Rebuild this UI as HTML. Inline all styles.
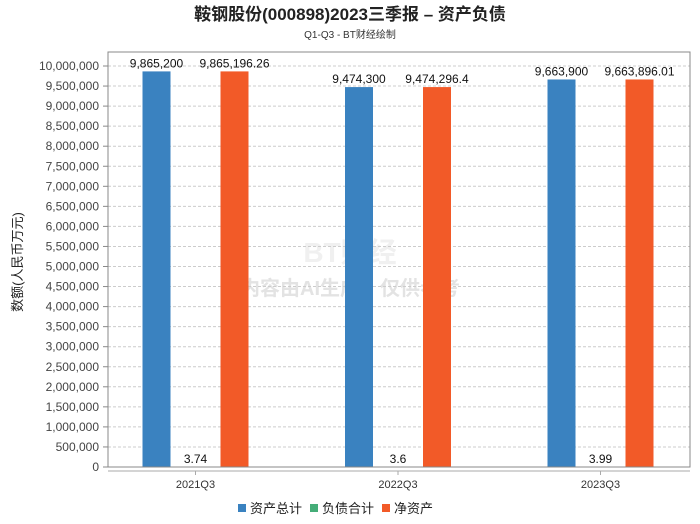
<!DOCTYPE html>
<html><head><meta charset="utf-8"><style>
body{margin:0;background:#fff;font-family:"Liberation Sans","Noto Sans CJK SC",sans-serif}
</style></head><body>
<svg id="c" width="700" height="524" xmlns="http://www.w3.org/2000/svg" style="display:block">
<text x="350" y="20" text-anchor="middle" font-size="17" font-weight="bold" fill="#222">鞍钢股份(000898)2023三季报 – 资产负债</text>
<text x="350" y="38" text-anchor="middle" font-size="10" fill="#333">Q1-Q3 - BT财经绘制</text>
<text transform="translate(22,262) rotate(-90)" text-anchor="middle" font-size="13" fill="#222">数额(人民币万元)</text>
<text x="350" y="295" text-anchor="middle" font-size="20" fill="#e3e3e3" font-weight="bold">内容由AI生成，仅供参考</text>
<text x="350" y="262" text-anchor="middle" font-size="28" fill="#f0f0f0" font-weight="bold">BT财经</text>
<g id="grid"></g><g id="bars"></g>
<rect x="108" y="52" width="582" height="415" fill="none" stroke="#888"/>
<line x1="108" y1="471" x2="690" y2="471" stroke="#aaa"/>
<g id="legend"></g>
</svg>
<script>
const categories=["2021Q3","2022Q3","2023Q3"];
const seriesNames=["资产总计","负债合计","净资产"];
const assets=[9865200,9474300,9663900];
const liabilities=[3.74,3.6,3.99];
const equity=[9865196.26,9474296.4,9663896.01];
const assetLabels=["9,865,200","9,474,300","9,663,900"];
const liabLabels=["3.74","3.6","3.99"];
const equityLabels=["9,865,196.26","9,474,296.4","9,663,896.01"];
const yTicks=[];for(let v=0;v<=10000000;v+=500000)yTicks.push(v);
const colors=["#3a82c0","#45ad78","#f25a28"];
const NS="http://www.w3.org/2000/svg";
const y=v=>467-v*(401/10000000);
const xc=i=>195.5+202.5*i;
function mk(t,a,p){const e=document.createElementNS(NS,t);for(const k in a)e.setAttribute(k,a[k]);p.appendChild(e);return e;}
const grid=document.getElementById('grid');
yTicks.forEach(v=>{
 if(v>0){const l=mk('line',{x1:108,x2:690,y1:y(v),y2:y(v),stroke:'#ccc','stroke-dasharray':'3,2'},grid);
 
 }
 const tk=mk('line',{x1:103,x2:108,y1:y(v),y2:y(v),stroke:'#888'},grid);
 
 
 const t=mk('text',{x:99,y:y(v)+4,'text-anchor':'end','font-size':12,fill:'#444'},grid);
 t.textContent=v.toLocaleString('en-US');
 
 
});
const bars=document.getElementById('bars');
const series=[[assets,assetLabels],[liabilities,liabLabels],[equity,equityLabels]];
categories.forEach((c,i)=>{
 const tk=mk('line',{x1:xc(i),x2:xc(i),y1:471,y2:475,stroke:'#aaa'},bars);
 
 
 const t=mk('text',{x:xc(i),y:488,'text-anchor':'middle','font-size':11,fill:'#333'},bars);
 t.textContent=c;
 
 
 series.forEach((s,j)=>{
  const cx=xc(i)+(j-1)*39;
  const v=s[0][i];
  const r=mk('rect',{x:cx-14,y:y(v),width:28,height:467-y(v),fill:colors[j]},bars);
  
  
  const l=mk('text',{x:cx,y:y(v)-4,'text-anchor':'middle','font-size':12,fill:'#111'},bars);
  l.textContent=s[1][i];
  
  
 });
});
const lg=document.getElementById('legend');
let lx=238;
seriesNames.forEach((n,j)=>{
 const r=mk('rect',{x:lx,y:504,width:8,height:8,fill:colors[j]},lg);
 
 
 const t=mk('text',{x:lx+12,y:513,'font-size':13,fill:'#222'},lg);
 t.textContent=n;
 
 
 lx+=12+n.length*13+8;
});
</script>
</body></html>
